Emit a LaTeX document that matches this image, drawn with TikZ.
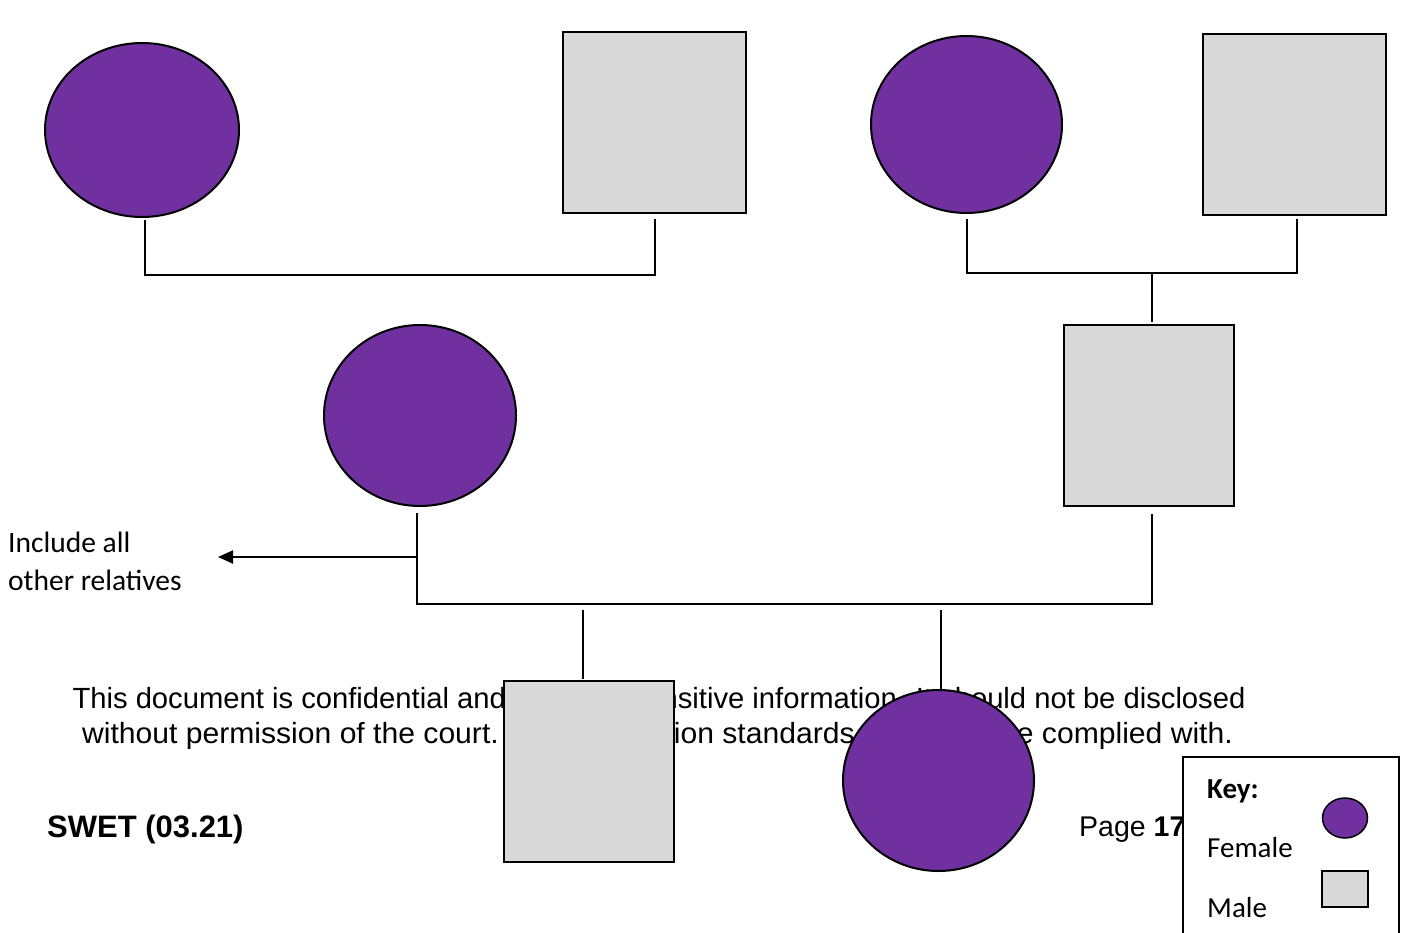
\documentclass[tikz,border=0pt]{standalone}
\usepackage{fontspec}
\setmainfont{Liberation Sans}
\newfontfamily\calibri{Carlito}
\usetikzlibrary{shapes.geometric,arrows.meta}
\definecolor{fem}{HTML}{7030A0}
\definecolor{mal}{HTML}{D9D9D9}
\tikzset{
  female/.style={ellipse,draw=black,line width=2pt,fill=fem,inner sep=0pt},
  male/.style={rectangle,draw=black,line width=2pt,fill=mal,inner sep=0pt},
  link/.style={draw=black,line width=2pt},
  doc/.style={inner sep=0pt,font=\fontsize{29.2}{35}\selectfont},
  cal/.style={inner sep=0pt,anchor=base west,font=\calibri\fontsize{29.5}{35}\selectfont},
}
\begin{document}
\begin{tikzpicture}[x=1pt,y=-1pt]
\useasboundingbox[fill=white] (0,0) rectangle (1405,932);
% footer text (behind shapes)
\node[doc,anchor=base] (t1) at (659,708) {This document is confidential and contains sensitive information. It should not be disclosed};
\node[doc,anchor=base] (t2) at (657.5,743) {\scalebox{1.031}[1]{without permission of the court. Data protection standards must also be complied with.}};
\node[doc,anchor=base west,font=\bfseries\fontsize{31}{36}\selectfont] (swet) at (47,837) {SWET (03.21)};
\node[doc,anchor=base west,font=\fontsize{28.5}{34}\selectfont] (page) at (1079,836) {Page \textbf{17}};
% side text
\node[cal] (inc1) at (8,552) {Include all};
\node[cal] (inc2) at (8,590) {other relatives};
% people
\node[female,minimum width=194pt,minimum height=174pt] (c1) at (142,130) {};
\node[male,minimum width=183pt,minimum height=181pt] (s1) at (654.5,122.5) {};
\node[female,minimum width=191pt,minimum height=177pt] (c2) at (966.5,124.5) {};
\node[male,minimum width=183pt,minimum height=181pt] (s2) at (1294.5,124.5) {};
\node[female,minimum width=192pt,minimum height=181pt] (c3) at (420,415.5) {};
\node[male,minimum width=170pt,minimum height=181pt] (s3) at (1149,415.5) {};
% connector coordinates
\coordinate (a1) at (145,220);
\coordinate (a2) at (145,275);
\coordinate (a3) at (655,275);
\coordinate (a4) at (655,219);
\coordinate (b1) at (967,219);
\coordinate (b2) at (967,273);
\coordinate (b3) at (1297,273);
\coordinate (b4) at (1297,219);
\coordinate (b5) at (1152,273);
\coordinate (b6) at (1152,322);
\coordinate (d1) at (417,513);
\coordinate (d2) at (417,604);
\coordinate (d3) at (1152,604);
\coordinate (d4) at (1152,514);
\coordinate (arrS) at (417,557);
\coordinate (arrE) at (218,557);
\coordinate (e1) at (583,610);
\coordinate (e2) at (583,679);
\coordinate (f1) at (941,610);
\coordinate (f2) at (941,690);
\draw[link] (a1) -- (a2) -- (a3) -- (a4);
\draw[link] (b1) -- (b2) -- (b3) -- (b4);
\draw[link] (b5) -- (b6);
\draw[link] (d1) -- (d2) -- (d3) -- (d4);
\draw[link,-{Triangle[length=15pt,width=13pt]}] (arrS) -- (arrE);
\draw[link] (e1) -- (e2);
\draw[link] (f1) -- (f2);
% children (over footer text)
\node[male,minimum width=170pt,minimum height=181pt] (s4) at (589,771.5) {};
\node[female,minimum width=191pt,minimum height=181pt] (c4) at (938.5,780.5) {};
% key
\draw[line width=1.5pt,fill=white] (1183,757) rectangle (1399,945);
\node[cal,font=\calibri\bfseries\fontsize{29}{34}\selectfont] (keyt) at (1207,798) {Key:};
\node[cal,font=\calibri\fontsize{29}{34}\selectfont] (keyf) at (1207,857) {Female};
\node[cal,font=\calibri\fontsize{29}{34}\selectfont] (keym) at (1207,917) {Male};
\node[female,line width=1.5pt,minimum width=45pt,minimum height=40pt] (kc) at (1345,818) {};
\node[male,line width=1.5pt,minimum width=46pt,minimum height=36pt] (ks) at (1345,889) {};
\end{tikzpicture}
\end{document}
